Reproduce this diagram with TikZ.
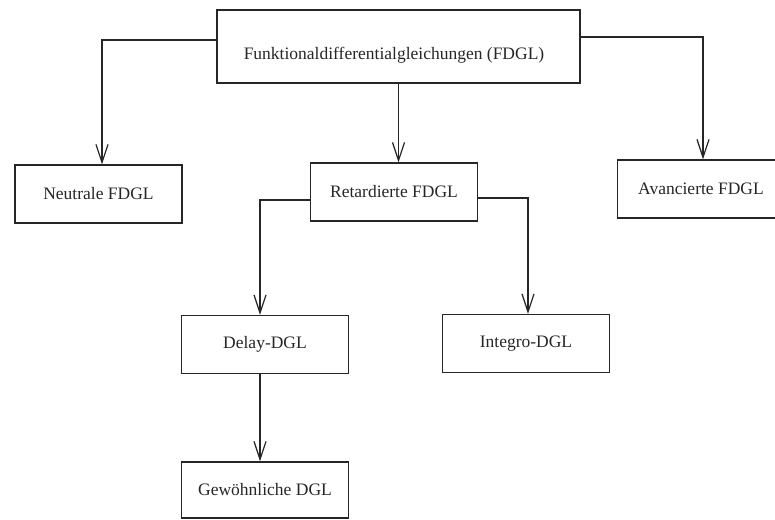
\documentclass[tikz,border=0pt]{standalone}
\usepackage{fontspec}
\setmainfont{Liberation Serif}
\usepackage{tikz}
\usepackage{xcolor}
\usetikzlibrary{arrows.meta}
\definecolor{ink}{HTML}{262626}

\tikzset{
	dglbox/.style={draw=ink, line width=1.4pt, minimum width=167pt, minimum height=58pt, inner sep=0pt, text=ink},
	link/.style={draw=ink, line width=1.4pt, -{Straight Barb[length=18pt,width=12pt,line width=1.2pt]}},
}

\begin{document}
\begin{tikzpicture}[x=1pt, y=-1pt]
	\fontsize{17.5}{21}\selectfont
	\useasboundingbox (0,0) rectangle (775,519); 

	% top box 
	\node[dglbox, minimum width=363pt, minimum height=73pt] (fdgl) at (398.5,46.5) {}; 
	\node[text=ink] (fdgllabel) at (394,55) {Funktionaldifferentialgleichungen (FDGL)}; 

	% first row 
	\node[dglbox] (neutral) at (98.5,194) {Neutrale FDGL}; 
	\node[dglbox] (retard) at (394,192) {Retardierte FDGL}; 
	\node[dglbox] (avanc) at (701,189) {Avancierte FDGL}; 

	% second row 
	\node[dglbox] (delay) at (265,344.5) {Delay-DGL}; 
	\node[dglbox] (integro) at (526,343.5) {Integro-DGL}; 

	% last row 
	\node[dglbox, minimum height=56pt] (gew) at (265,490) {Gewöhnliche DGL}; 

	\draw[link] ([yshift=6.5pt]fdgl.west) -| ([xshift=3.5pt]neutral.north); 
	\draw[link] (fdgl.south) -- (fdgl.south |- retard.north); 
	\draw[link] ([yshift=9.5pt]fdgl.east) -| ([xshift=2pt]avanc.north); 

	\draw[link] ([yshift=-8pt]retard.west) -| ([xshift=-5pt]delay.north); 
	\draw[link] ([yshift=-6pt]retard.east) -| ([xshift=2pt]integro.north); 

	\draw[link] ([xshift=-5pt]delay.south) -- ([xshift=-5pt]gew.north); 
\end{tikzpicture}
\end{document}
